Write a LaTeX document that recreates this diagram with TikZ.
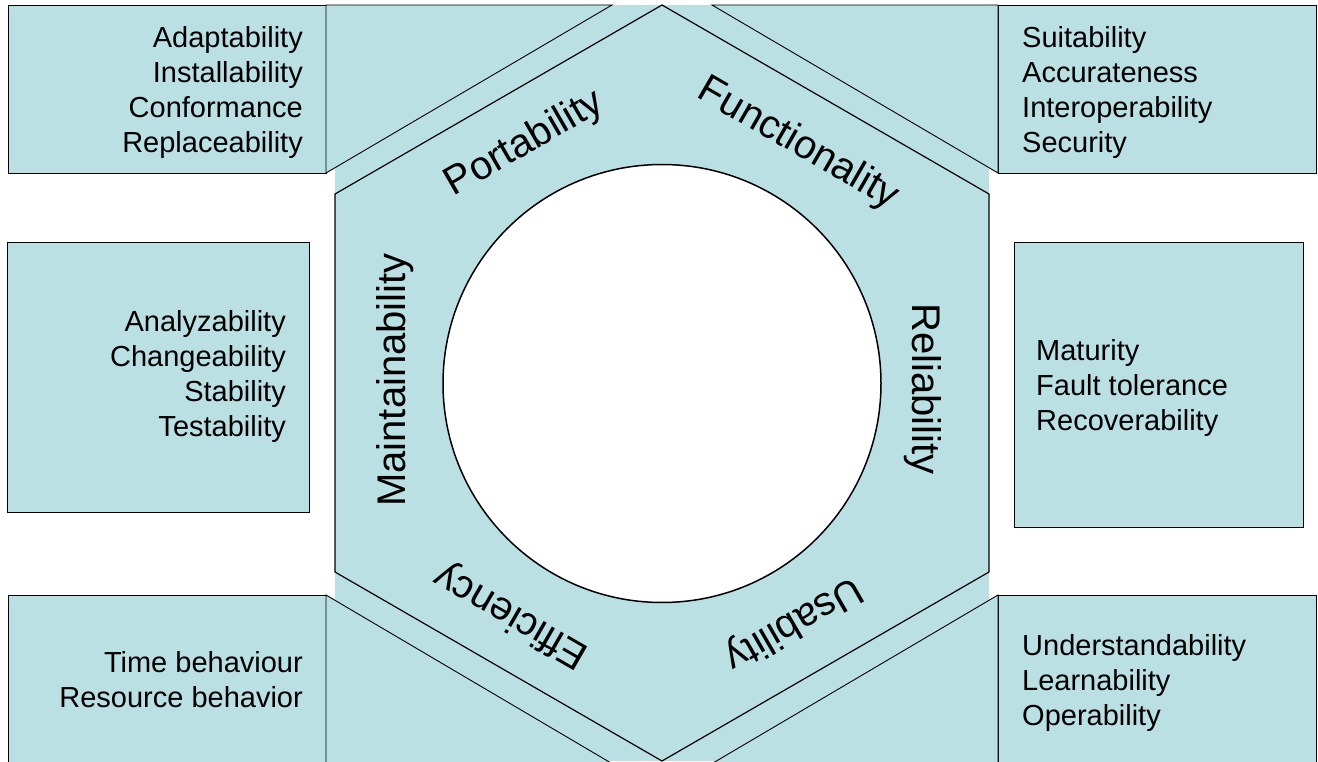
\documentclass[tikz,border=0pt]{standalone}
\usepackage{fontspec}
\setmainfont{Liberation Sans}
\definecolor{paleblue}{RGB}{187,224,227}
\begin{document}
\begin{tikzpicture}[x=1pt,y=-1pt,
  panel/.style={fill=paleblue,draw=black,line width=0.9pt},
  itemtext/.style={font=\fontsize{29}{35}\selectfont,inner sep=0pt},
  facet/.style={font=\fontsize{40}{48}\selectfont,inner sep=0pt,anchor=base}]
\useasboundingbox (0,0) rectangle (1318,762);
% background behind the hexagon
\fill[paleblue] (335,5) rectangle (989,761);
% hexagon
\draw[fill=paleblue,line width=1.2pt] (662,5) -- (989,194) -- (989,572) -- (662,761) -- (335,572) -- (335,194) -- cycle;
% inner circle
\draw[fill=white,line width=1.5pt] (662,383.5) circle (219);
% corner panels
\draw[panel] (8,5) rectangle (326,173);
\draw[panel] (326,5) -- (612,5) -- (326,173) -- cycle;
\draw[panel] (998,5) rectangle (1316,173);
\draw[panel] (998,5) -- (712,5) -- (998,173) -- cycle;
\draw[panel] (8,595) rectangle (326,763);
\draw[panel] (326,595) -- (326,763) -- (611,763) -- cycle;
\draw[panel] (998,595) rectangle (1316,763);
\draw[panel] (998,595) -- (998,763) -- (713,763) -- cycle;
% side panels
\draw[panel] (7,242) rectangle (309,512);
\draw[panel] (1014,242) rectangle (1303,527);
% panel texts
\node[itemtext,align=right,anchor=north east] (portitems) at (303,22.5) {\strut Adaptability\\Installability\\Conformance\\Replaceability};
\node[itemtext,align=left,anchor=north west] (funcitems) at (1022,22.5) {\strut Suitability\\Accurateness\\Interoperability\\Security};
\node[itemtext,align=right,anchor=north east] (maintitems) at (286,307) {\strut Analyzability\\Changeability\\Stability\\Testability};
\node[itemtext,align=left,anchor=north west] (relitems) at (1036,336) {\strut Maturity\\Fault tolerance\\Recoverability};
\node[itemtext,align=right,anchor=north east] (effitems) at (303,647.5) {\strut Time behaviour\\Resource behavior};
\node[itemtext,align=left,anchor=north west] (usitems) at (1022,630.5) {\strut Understandability\\Learnability\\Operability};
% facet labels
\node[facet,rotate=90] (maint) at (405,380) {Maintainability};
\node[facet,rotate=-90] (rel) at (912,389) {Reliability};
\node[facet,rotate=30] (port) at (530,153) {Portability};
\node[facet,rotate=-30] (func) at (793,153) {Functionality};
\node[facet,rotate=210] (usab) at (788,614) {Usability};
\node[facet,rotate=150] (eff) at (517,606) {Efficiency};
\end{tikzpicture}
\end{document}
